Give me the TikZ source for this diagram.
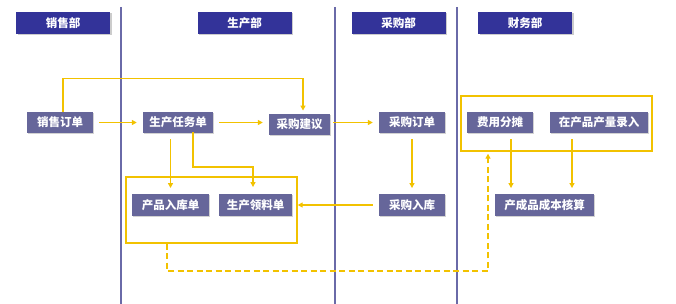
\documentclass[tikz,border=0pt]{standalone}
\usepackage{fontspec}
\newfontfamily\cjk{Noto Sans CJK SC}
\usepackage{xcolor}
\usepackage{tikz}
\usetikzlibrary{arrows.meta,shadows}
\definecolor{lanehdr}{HTML}{333399}
\definecolor{lanebox}{HTML}{66669A}
\definecolor{laneline}{HTML}{6A6AA8}
\definecolor{flowgold}{HTML}{F2C200}

\begin{document}
\begin{tikzpicture}[x=1pt, y=-1pt, >={Triangle[length=5pt,width=5pt]},
  every node/.style={font=\cjk\bfseries\fontsize{11.5}{13}\selectfont, text=white},
  hdrbox/.style={fill=lanehdr, minimum width=94, minimum height=22, inner sep=0,
    drop shadow={shadow xshift=1.5pt, shadow yshift=-1.5pt, fill=black!40}},
  procbox/.style={fill=lanebox, minimum height=21.5, inner sep=0,
    drop shadow={shadow xshift=1.2pt, shadow yshift=-1.2pt, fill=black!35}},
  grpbox/.style={draw=flowgold, line width=1.4pt, inner sep=0},
  flow/.style={->, flowgold, line width=1.4pt, shorten <=6pt, shorten >=6pt},
  dashflow/.style={->, flowgold, line width=1.4pt, dash pattern=on 6pt off 3.5pt}]
  \useasboundingbox (0,0) rectangle (676,304);

  \draw[laneline, line width=1.2pt] (121,7) -- (121,304);
  \draw[laneline, line width=1.2pt] (335,7) -- (335,304);
  \draw[laneline, line width=1.2pt] (457,7) -- (457,304);

  \node[hdrbox] (hxs) at (63,23) {销售部};
  \node[hdrbox] (hsc) at (244.5,23) {生产部};
  \node[hdrbox] (hcg) at (398.5,23) {采购部};
  \node[hdrbox] (hcw) at (525,23) {财务部};

  \node[grpbox, minimum width=171, minimum height=66] (scgrp) at (211.5,210) {};
  \node[grpbox, minimum width=191, minimum height=55] (cwgrp) at (556.5,123.5) {};

  \node[procbox, minimum width=66] (xsdd) at (60,122.5) {销售订单};
  \node[procbox, minimum width=70] (scrw) at (178,122.5) {生产任务单};
  \node[procbox, minimum width=61] (cgjy) at (299.5,124.5) {采购建议};
  \node[procbox, minimum width=66] (cgdd) at (412,122.5) {采购订单};
  \node[procbox, minimum width=66] (fyft) at (500,122.5) {费用分摊};
  \node[procbox, minimum width=98] (zcpl) at (599,122.5) {在产品产量录入};
  \node[procbox, minimum width=77] (cprk) at (170.5,205) {产品入库单};
  \node[procbox, minimum width=73] (scll) at (255.5,205) {生产领料单};
  \node[procbox, minimum width=66] (cgrk) at (412,205) {采购入库};
  \node[procbox, minimum width=99] (cccb) at (544.5,205) {产成品成本核算};

  \coordinate (scfork) at (193,167);
  \coordinate (dashturn) at (488,271);

  \draw[flow, shorten <=0pt, shorten >=3pt] ([xshift=3]xsdd.north) -- ++(0,-33) -| ([xshift=3.5]cgjy.north);
  \draw[flow] (xsdd) -- (scrw);
  \draw[flow] (scrw) -- (scrw -| cgjy.west);
  \draw[flow, shorten <=3pt] (cgjy.east |- cgdd) -- (cgdd);
  \draw[flow] (cgdd) -- (cgrk);
  \draw[flow, shorten >=0pt] (cgrk) -- (scgrp.east |- cgrk);
  \draw[flow] (cprk |- scrw.south) -- (cprk.north);
  \draw[flow, shorten <=10pt, shorten >=7pt] (scfork |- scrw.center) -- (scfork) -| ([xshift=-2.5]scll.north);
  \draw[flow] ([xshift=11]fyft.south) -- ([xshift=11]fyft.south |- cccb.north);
  \draw[flow] ([xshift=-27]zcpl.south) -- ([xshift=-27]zcpl.south |- cccb.north);
  \draw[dashflow, shorten >=2pt] ([xshift=-44.5]scgrp.south) |- (dashturn) -- (dashturn |- cwgrp.south);
\end{tikzpicture}
\end{document}
